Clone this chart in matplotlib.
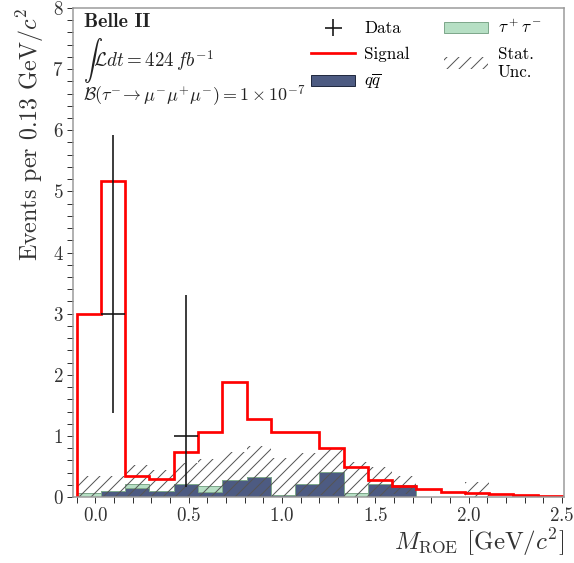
import numpy as np
import matplotlib
matplotlib.use("Agg")
import matplotlib.pyplot as plt
from matplotlib.patches import Patch
from matplotlib.lines import Line2D

plt.rcParams['font.family'] = ['cmr10', 'DejaVu Serif']
plt.rcParams['mathtext.fontset'] = 'cm'
plt.rcParams['axes.formatter.use_mathtext'] = True

# binning: 20 bins of 0.13 GeV/c^2 from -0.1 to 2.5
edges = np.round(np.linspace(-0.1, 2.5, 21), 3)

signal = [3.0, 5.17, 0.35, 0.29, 0.74, 1.06, 1.88, 1.28, 1.07, 1.06,
          0.81, 0.50, 0.28, 0.19, 0.13, 0.09, 0.07, 0.05, 0.03, 0.02]
qqbar = [0.0, 0.10, 0.15, 0.10, 0.21, 0.08, 0.28, 0.33, 0.04, 0.22,
         0.41, 0.0, 0.21, 0.20, 0.0, 0.0, 0.01, 0.0, 0.0, 0.0]
tautau = [0.07, 0.0, 0.07, 0.0, 0.0, 0.10, 0.0, 0.0, 0.0, 0.0,
          0.0, 0.06, 0.0, 0.0, 0.0, 0.0, 0.0, 0.0, 0.0, 0.0]
stat_unc = [0.28, 0.25, 0.30, 0.35, 0.35, 0.45, 0.46, 0.50, 0.60, 0.50,
            0.38, 0.51, 0.28, 0.15, 0.0, 0.0, 0.24, 0.0, 0.0, 0.0]

# observed data (only non-empty bins), poisson intervals
data_x = [0.095, 0.485]
data_y = [3, 1]
data_lo = [1.37, 0.17]
data_hi = [5.92, 3.30]

qqbar = np.array(qqbar)
tautau = np.array(tautau)
bkg = qqbar + tautau
unc = np.array(stat_unc)

fig = plt.figure(figsize=(574 / 72, 563 / 72), dpi=72)
ax = fig.add_axes([0.127, 0.117, 0.856, 0.869])

c_qq = '#4d5b82'
c_tau = '#b6dfc4'

ax.stairs(qqbar, edges, fill=True, facecolor=c_qq, edgecolor='#222a40', lw=1.0)
ax.stairs(bkg, edges, baseline=qqbar, fill=True, facecolor=c_tau, edgecolor='#7fa88c', lw=1.0)
ax.stairs(bkg + unc, edges, baseline=np.clip(bkg - unc, 0, None), fill=True,
          facecolor='none', edgecolor='#555555', hatch='//', lw=0)
ax.stairs(signal, edges, baseline=0, color='#ff0000', lw=2.7)

bw = edges[1] - edges[0]
ax.errorbar(data_x, data_y, xerr=bw / 2,
            yerr=[np.array(data_y) - np.array(data_lo), np.array(data_hi) - np.array(data_y)],
            fmt='none', ecolor='#111111', elinewidth=1.6)

ax.set_xlim(-0.12, 2.512)
ax.set_ylim(0, 8)
ax.set_xticks([0.0, 0.5, 1.0, 1.5, 2.0, 2.5])
ax.set_xticks(np.arange(-0.1, 2.51, 0.1), minor=True)
ax.set_yticks(range(0, 9))
ax.set_yticks(np.arange(0, 8.01, 0.2), minor=True)
ax.tick_params(which='both', direction='out', length=6, width=1, color='#333333',
               labelsize=19, labelcolor='#333333')
for s in ax.spines.values():
    s.set_color('#999999')
    s.set_linewidth(1.5)

ax.set_xlabel(r'$M_{\rm ROE}$ [GeV/$c^2$]', fontsize=25, loc='right', color='#333333',
              labelpad=2)
ax.set_ylabel(r'Events per 0.13 GeV/$c^2$', fontsize=24, loc='top', color='#333333',
              labelpad=6)

ax.text(0.022, 0.99, 'Belle II', transform=ax.transAxes, fontsize=20,
        family='cmb10', va='top', ha='left', color='#222222')
ax.text(0.02, 0.892, r'$\int\mathcal{L}dt = 424\,fb^{-1}$', transform=ax.transAxes,
        fontsize=19, va='center', ha='left', color='#222222')
ax.text(0.02, 0.82, r'$\mathcal{B}(\tau^{-}\!\rightarrow\mu^{-}\mu^{+}\mu^{-}) = 1\times10^{-7}$',
        transform=ax.transAxes, fontsize=18, va='center', ha='left', color='#222222')

h_data = ax.errorbar([], [], xerr=1, yerr=1, fmt='none', ecolor='#111111', elinewidth=1.6)
h_sig = Line2D([], [], color='#ff0000', lw=2.7)
h_qq = Patch(facecolor=c_qq, edgecolor='#222a40')
h_tau = Patch(facecolor=c_tau, edgecolor='#7fa88c')
h_unc = Patch(facecolor='none', edgecolor='#555555', hatch='//', lw=0)
ax.legend([h_data, h_sig, h_qq, h_tau, h_unc],
          ['Data', 'Signal', r'$q\overline{q}$', r'$\tau^+\tau^-$', 'Stat.\nUnc.'],
          ncol=2, loc='upper right', bbox_to_anchor=(0.985, 1.01), frameon=False,
          fontsize=17, handlelength=2.6, handletextpad=0.55, columnspacing=2.0,
          labelspacing=0.6)

fig.savefig('out.png', dpi=72)
